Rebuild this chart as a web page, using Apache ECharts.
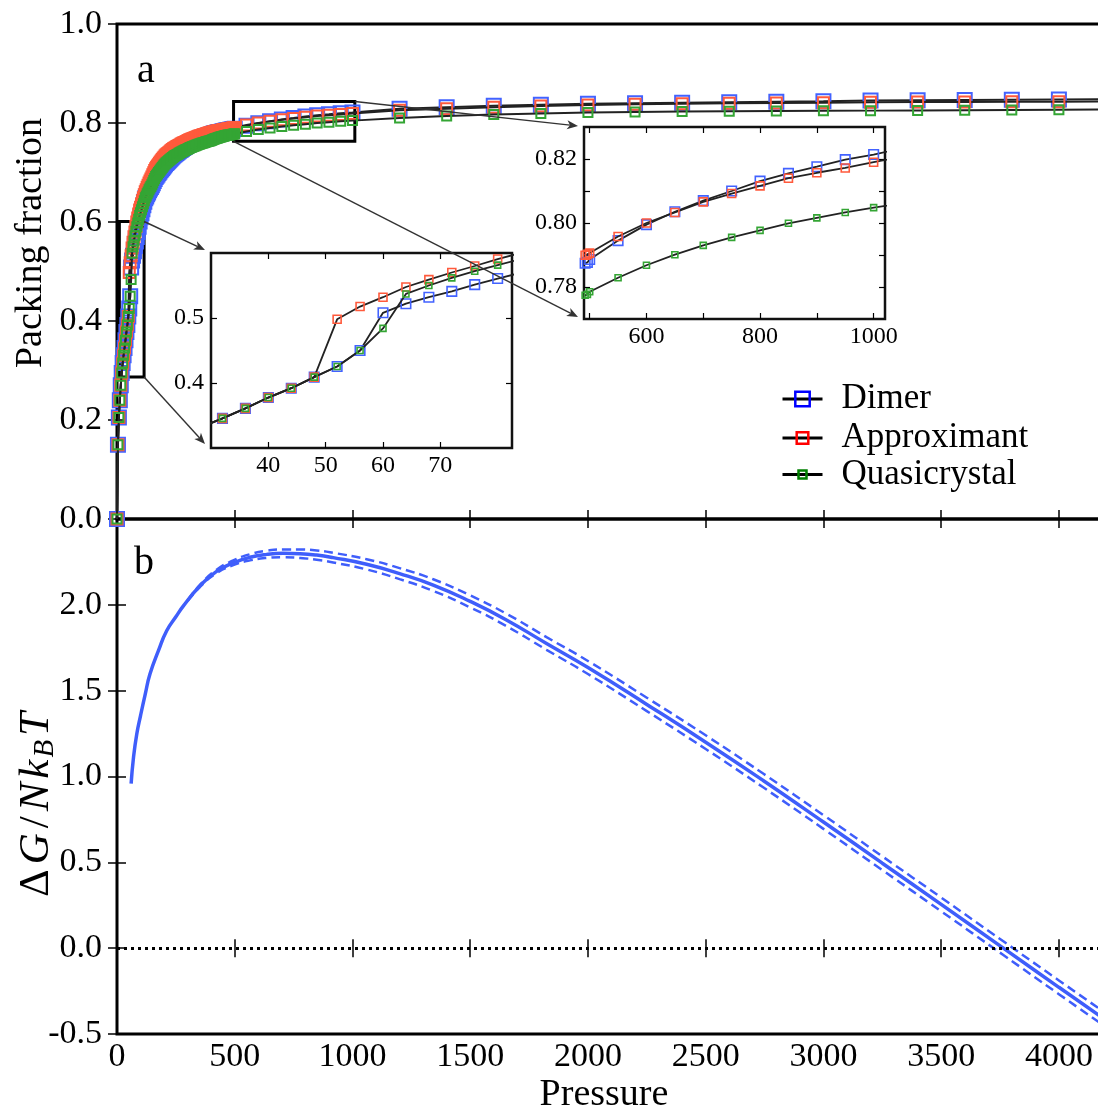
<!DOCTYPE html>
<html><head><meta charset="utf-8">
<script src="https://cdn.jsdelivr.net/npm/echarts@6/dist/echarts.min.js"></script>
<style>html,body{margin:0;padding:0;background:#fff}#c{width:1098px;height:1111px}</style>
</head><body><div id="c"></div>
<script>
// ---------- data ----------
const pressure = [0,4,8,12,16,20,24,28,32,36,40,44,48,52,56,60,64,68,72,76,80,84,88,92,96,100,104,108,112,116,120,124,128,132,136,140,144,148,152,156,160,164,168,172,176,180,184,188,192,196,200,204,208,212,216,220,224,228,232,236,240,244,248,252,256,260,264,268,272,276,280,284,288,292,296,300,304,308,312,316,320,324,328,332,336,340,344,348,352,356,360,364,368,372,376,380,384,388,392,396,400,404,408,412,416,420,424,428,432,436,440,444,448,452,456,460,464,468,472,476,480,484,488,492,496,500,550,600,650,700,750,800,850,900,950,1000,1200,1400,1600,1800,2000,2200,2400,2600,2800,3000,3200,3400,3600,3800,4000,4200];
const dimer = [0,0.150,0.205,0.240,0.270,0.295,0.315,0.331,0.3456,0.361,0.3776,0.392,0.409,
0.4253,0.450,0.508,0.522,0.532,0.541,0.5513,0.5607,
0.5695,0.580,0.5905,0.601,0.6097,0.6175,0.626,0.634,0.641,0.648,
0.6516,0.6559,0.6595,0.6639,0.6675,0.6706,0.6742,0.6785,0.6827,0.6869,0.6907,0.6934,0.6961,0.6989,0.7016,0.7043,0.7068,0.7092,0.7116,0.714,
0.7168,0.719,0.7209,0.7229,0.7249,0.7269,0.7289,0.7308,0.7328,0.7348,0.7363,0.7378,0.7392,0.7407,0.7423,0.7438,0.7453,0.7467,0.7482,0.7495,0.7509,0.7522,0.7535,0.7548,0.7561,
0.7573,0.7583,0.7594,0.7603,0.7612,0.7621,0.763,0.764,0.7649,0.7658,0.7667,0.7675,0.7683,0.769,0.7697,0.7704,0.7711,0.7718,0.7725,0.7732,0.7738,0.7745,0.7751,0.7758,0.7765,
0.7775,0.7782,0.7788,0.7794,0.7799,0.7803,0.7807,0.7812,0.7816,0.782,0.7824,0.7829,0.7832,0.7837,0.7841,0.7846,0.7849,0.7854,0.7857,0.7862,0.7866,0.787,0.7874,0.7877,0.7886,
0.7945,0.7995,0.8035,0.807,0.810,0.8131,0.8155,0.8176,0.8198,0.8214,
0.829,0.832,0.835,0.837,0.839,0.840,0.841,0.842,0.843,0.844,0.8455,0.846,0.8465,0.847,0.8475,0.848];
const approximant = [0,0.150,0.205,0.240,0.270,0.295,0.315,0.331,0.3456,0.361,0.3776,0.392,0.409,
0.498,0.5176,0.532,0.5477,0.559,0.570,0.580,0.5907,
0.600,0.608,0.616,0.624,0.630,0.6365,0.643,0.649,0.655,0.661,
0.665,0.670,0.674,0.679,0.683,0.687,0.691,0.6955,0.6997,0.7039,0.7077,0.7104,0.7131,0.7159,0.7186,0.7213,0.7238,0.7262,0.7286,0.731,
0.7334,0.7352,0.7368,0.7384,0.74,0.7416,0.7432,0.7448,0.7464,0.748,0.7491,0.7502,0.7513,0.7524,0.7536,0.7547,0.7558,0.7569,0.758,0.7589,0.7599,0.7608,0.7618,0.7627,0.7636,
0.7646,0.7655,0.7664,0.7671,0.7679,0.7686,0.7694,0.7702,0.7709,0.7717,0.7724,0.7731,0.7738,0.7744,0.775,0.7756,0.7762,0.7768,0.7774,0.778,0.7785,0.7791,0.7796,0.7801,0.7807,
0.7812,0.7818,0.7823,0.7829,0.7833,0.7837,0.784,0.7844,0.7848,0.7851,0.7855,0.7859,0.7862,0.7866,0.787,0.7874,0.7877,0.7881,0.7884,0.7888,0.7892,0.7895,0.7899,0.7902,0.7906,
0.7958,0.800,0.8033,0.8066,0.8092,0.8116,0.814,0.8157,0.8172,0.819,
0.826,0.829,0.832,0.8345,0.8365,0.838,0.839,0.840,0.8405,0.841,0.842,0.8423,0.8426,0.8428,0.843,0.8433];
const quasicrystal = [0,0.150,0.205,0.240,0.270,0.295,0.315,0.331,0.3456,0.361,0.3776,0.392,0.409,
0.4253,0.450,0.484,0.537,0.550,0.5617,0.572,0.5813,
0.5905,0.598,0.6055,0.613,0.6187,0.6245,0.631,0.637,0.643,0.649,
0.6526,0.6569,0.6605,0.6649,0.6685,0.6716,0.6752,0.6795,0.6837,0.6879,0.6917,0.6944,0.6971,0.6999,0.7026,0.7053,0.7078,0.7102,0.7126,0.715,
0.7174,0.7192,0.7208,0.7224,0.724,0.7256,0.7272,0.7288,0.7304,0.732,0.7331,0.7342,0.7353,0.7364,0.7376,0.7387,0.7398,0.7409,0.742,0.7429,0.7439,0.7448,0.7458,0.7467,0.7476,
0.7486,0.7495,0.7504,0.7511,0.7519,0.7526,0.7534,0.7542,0.7549,0.7557,0.7564,0.7571,0.7578,0.7584,0.759,0.7596,0.7602,0.7608,0.7614,0.762,0.7625,0.7631,0.7636,0.7641,0.7647,
0.7659,0.7667,0.7674,0.7682,0.7688,0.7694,0.7699,0.7705,0.7711,0.7716,0.7722,0.7728,0.7733,0.7739,0.7745,0.7749,0.7752,0.7756,0.7759,0.7763,0.7767,0.777,0.7774,0.7777,0.7785,
0.7829,0.7868,0.7901,0.793,0.7955,0.7977,0.7999,0.8016,0.8033,0.8048,
0.810,0.814,0.817,0.819,0.821,0.822,0.823,0.8235,0.824,0.8245,0.825,0.8255,0.826,0.8265,0.827,0.8275];

const pressureG = [60,70,84,100,120,140,176,211,250,282,352,423,494,565,636,706,777,848,918,1060,1200,1343,1500,1650,1824,2000,2250,2500,2744,3000,3250,3500,3764,4000,4200];
const deltaG = [0.958,1.11,1.248,1.355,1.48,1.597,1.733,1.849,1.93,1.994,2.11,2.195,2.245,2.277,2.294,2.300,2.298,2.29,2.275,2.236,2.182,2.115,2.02,1.915,1.775,1.635,1.42,1.2,0.977,0.735,0.495,0.255,0.0,-0.228,-0.42];
const pressureErr = [300,352,423,494,565,636,706,777,848,918,1060,1200,1343,1500,1650,1824,2000,2250,2500,2744,3000,3250,3500,3764,4000,4200];
const deltaGUpper = [2.026,2.116,2.205,2.259,2.295,2.315,2.323,2.323,2.317,2.303,2.266,2.214,2.149,2.055,1.951,1.812,1.673,1.459,1.24,1.017,0.775,0.535,0.295,0.04,-0.188,-0.38];
const deltaGLower = [2.022,2.104,2.185,2.231,2.259,2.273,2.277,2.273,2.263,2.247,2.206,2.150,2.081,1.985,1.879,1.738,1.597,1.381,1.16,0.937,0.695,0.455,0.215,-0.04,-0.268,-0.46];

const seriesNames = ['Dimer','Approximant','Quasicrystal'];
const inset1XTicks = [40,50,60,70];
const inset1YTicks = [0.4,0.5];
const inset2XTicks = [500,600,700,800,900,1000];
const inset2XLabels = [600,800,1000];
const inset2YTicks = [0.78,0.79,0.80,0.81,0.82];
const inset2YLabels = [0.78,0.80,0.82];

// ---------- chart ----------
const FONT = "'Liberation Serif','DejaVu Serif',serif";
const chart = echarts.init(document.getElementById('c'), null, {renderer:'canvas'});
const pairs = (xs, ys) => xs.map((x, i) => [x, ys[i]]);
const mColors = ['#4262ff', '#ff5a3c', '#34a534'];
const legColors = ['#0000ff', '#ff0000', '#008000'];
const mainSizes = [14, 11, 9];
const insetSizes = [9.5, 8, 6];
const valsList = [dimer, approximant, quasicrystal];

function ax(o) {
  return Object.assign({
    type: 'value', axisLine: {show: false}, splitLine: {show: false},
    axisTick: {inside: true, length: 9, lineStyle: {color: '#000', width: 1.5}},
    axisLabel: {show: false}
  }, o);
}
const mainLabel = (o) => Object.assign({show: true, color: '#000', fontFamily: FONT, fontSize: 34}, o);
const insetTick = {inside: true, length: 6, lineStyle: {color: '#000', width: 1.2}};
const inList = (arr, v) => arr.some(a => Math.abs(a - v) < 1e-6);

const xAxis = [
  ax({gridIndex: 0, position: 'bottom', min: 0, max: 4200, interval: 500}),
  ax({gridIndex: 0, position: 'top', min: 0, max: 4200, interval: 500}),
  ax({gridIndex: 1, position: 'bottom', min: 0, max: 4200, interval: 500,
      axisLabel: mainLabel({margin: 6, formatter: v => (v % 500 === 0 && v <= 4000) ? String(v) : ''})}),
  ax({gridIndex: 1, position: 'top', min: 0, max: 4200, interval: 500}),
  ax({gridIndex: 2, position: 'bottom', min: 30, max: 82.5, interval: 10,
      axisTick: Object.assign({customValues: inset1XTicks}, insetTick),
      axisLabel: {show: true, customValues: inset1XTicks, color: '#000', fontFamily: FONT, fontSize: 24, margin: 6,
                  formatter: v => inList(inset1XTicks, v) ? String(v) : ''}}),
  ax({gridIndex: 2, position: 'top', min: 30, max: 82.5, interval: 10,
      axisTick: Object.assign({customValues: inset1XTicks}, insetTick)}),
  ax({gridIndex: 3, position: 'bottom', min: 490, max: 1020, interval: 100,
      axisTick: Object.assign({customValues: inset2XTicks}, insetTick),
      axisLabel: {show: true, customValues: inset2XLabels, color: '#000', fontFamily: FONT, fontSize: 24, margin: 6,
                  formatter: v => inList(inset2XLabels, v) ? String(v) : ''}}),
  ax({gridIndex: 3, position: 'top', min: 490, max: 1020, interval: 100,
      axisTick: Object.assign({customValues: inset2XTicks}, insetTick)})
];
const yAxis = [
  ax({gridIndex: 0, position: 'left', min: 0, max: 1, interval: 0.2,
      axisLabel: mainLabel({margin: 15, formatter: v => v.toFixed(1)})}),
  ax({gridIndex: 0, position: 'right', min: 0, max: 1, interval: 0.2}),
  ax({gridIndex: 1, position: 'left', min: -0.5, max: 2.5, interval: 0.5,
      axisLabel: mainLabel({margin: 15, formatter: v => Math.abs(v - 2.5) < 1e-6 ? '' : v.toFixed(1)})}),
  ax({gridIndex: 1, position: 'right', min: -0.5, max: 2.5, interval: 0.5}),
  ax({gridIndex: 2, position: 'left', min: 0.3, max: 0.6, interval: 0.1,
      axisTick: Object.assign({customValues: inset1YTicks}, insetTick),
      axisLabel: {show: true, customValues: inset1YTicks, color: '#000', fontFamily: FONT, fontSize: 24, margin: 7,
                  formatter: v => inList(inset1YTicks, v) ? v.toFixed(1) : ''}}),
  ax({gridIndex: 2, position: 'right', min: 0.3, max: 0.6, interval: 0.1,
      axisTick: Object.assign({customValues: inset1YTicks}, insetTick)}),
  ax({gridIndex: 3, position: 'left', min: 0.77, max: 0.83, interval: 0.01,
      axisTick: Object.assign({customValues: inset2YTicks}, insetTick),
      axisLabel: {show: true, customValues: inset2YLabels, color: '#000', fontFamily: FONT, fontSize: 24, margin: 7,
                  formatter: v => inList(inset2YLabels, v) ? v.toFixed(2) : ''}}),
  ax({gridIndex: 3, position: 'right', min: 0.77, max: 0.83, interval: 0.01,
      axisTick: Object.assign({customValues: inset2YTicks}, insetTick)})
];

const grid = [
  {left: 117, top: 24, width: 989, height: 495, outerBoundsMode: 'none', containLabel: false, show: true, borderColor: '#000', borderWidth: 3, backgroundColor: 'transparent'},
  {left: 117, top: 519, width: 989, height: 515, outerBoundsMode: 'none', containLabel: false, show: true, borderColor: '#000', borderWidth: 3, backgroundColor: 'transparent'},
  {left: 211, top: 253, width: 301, height: 195, outerBoundsMode: 'none', containLabel: false, show: true, borderColor: '#111', borderWidth: 2.5, backgroundColor: '#fff'},
  {left: 584, top: 127, width: 301, height: 192, outerBoundsMode: 'none', containLabel: false, show: true, borderColor: '#111', borderWidth: 2.5, backgroundColor: '#fff'}
];

const series = [];
seriesNames.forEach((name, k) => {
  const s = {
    type: 'line', name: name, xAxisIndex: 0, yAxisIndex: 0,
    data: pairs(pressure, valsList[k]),
    symbol: 'rect', symbolSize: mainSizes[k], showSymbol: true,
    itemStyle: {color: 'rgba(0,0,0,0)', borderColor: mColors[k], borderWidth: 2},
    lineStyle: {color: '#222', width: 2},
    silent: true, emphasis: {disabled: true}, z: 2 + k
  };
  if (k === 2) {
    s.markArea = {
      silent: true,
      itemStyle: {color: 'rgba(0,0,0,0)', borderColor: '#000', borderWidth: 3},
      data: [
        [{xAxis: 10, yAxis: 0.287}, {xAxis: 115, yAxis: 0.601}],
        [{xAxis: 495, yAxis: 0.763}, {xAxis: 1010, yAxis: 0.8435}]
      ]
    };
  }
  series.push(s);
});
[[4, 4], [6, 6]].forEach(([xi, yi]) => {
  seriesNames.forEach((name, k) => {
    series.push({
      type: 'line', name: name + ' inset', xAxisIndex: xi, yAxisIndex: yi,
      data: pairs(pressure, valsList[k]), clip: true,
      symbol: 'rect', symbolSize: insetSizes[k], showSymbol: true,
      itemStyle: {color: 'rgba(0,0,0,0)', borderColor: mColors[k], borderWidth: 1.6},
      lineStyle: {color: '#222', width: 1.8},
      silent: true, emphasis: {disabled: true}, z: 5 + k
    });
  });
});
const gBlue = '#3f5efb';
series.push({
  type: 'line', name: 'dG', xAxisIndex: 2, yAxisIndex: 2,
  data: pairs(pressureG, deltaG), symbol: 'none', smooth: 0.5,
  lineStyle: {color: gBlue, width: 3.5}, silent: true, emphasis: {disabled: true},
  markLine: {silent: true, symbol: ['none', 'none'], label: {show: false},
             lineStyle: {color: '#000', type: [3, 4], width: 3}, data: [{yAxis: 0}]}
});
series.push({
  type: 'line', name: 'dG upper', xAxisIndex: 2, yAxisIndex: 2,
  data: pairs(pressureErr, deltaGUpper), symbol: 'none', smooth: 0.5,
  lineStyle: {color: gBlue, width: 2.5, type: [9, 5]}, silent: true, emphasis: {disabled: true}
});
series.push({
  type: 'line', name: 'dG lower', xAxisIndex: 2, yAxisIndex: 2,
  data: pairs(pressureErr, deltaGLower), symbol: 'none', smooth: 0.5,
  lineStyle: {color: gBlue, width: 2.5, type: [9, 5]}, silent: true, emphasis: {disabled: true}
});

const legendCenters = [399, 438, 474.5];
const legendHeights = [18, 14.5, 10];
const legend = seriesNames.map((name, k) => ({
  data: [{name: name,
          itemStyle: {color: 'rgba(0,0,0,0)', borderColor: legColors[k], borderWidth: 2.5},
          lineStyle: {color: '#000', width: 3}}],
  left: 781, top: legendCenters[k] - 17.5, padding: 0,
  itemWidth: 40, itemHeight: legendHeights[k], selectedMode: false,
  textStyle: {fontFamily: FONT, fontSize: 35, color: '#000', lineHeight: 35, padding: [0, 0, 0, 14]}
}));

chart.setOption({
  animation: false, backgroundColor: '#fff',
  grid, xAxis, yAxis, series, legend
});

// ---------- annotations (texts + zoom arrows) ----------
function arrow(p0, p1) {
  const dx = p1[0] - p0[0], dy = p1[1] - p0[1], L = Math.hypot(dx, dy), ux = dx / L, uy = dy / L;
  const hl = 11, hw = 4.5;
  const b = [p1[0] - ux * hl, p1[1] - uy * hl];
  return [
    {type: 'line', z: 100, shape: {x1: p0[0], y1: p0[1], x2: b[0] + ux * 3, y2: b[1] + uy * 3}, style: {stroke: '#333', lineWidth: 1.4}},
    {type: 'polygon', z: 100, shape: {points: [p1, [b[0] - uy * hw, b[1] + ux * hw], [b[0] + ux * 3, b[1] + uy * 3], [b[0] + uy * hw, b[1] - ux * hw]]}, style: {fill: '#333'}}
  ];
}
const P = (g, pt) => chart.convertToPixel({gridIndex: g}, pt);
const b1tr = P(0, [115, 0.601]), b1br = P(0, [115, 0.287]);
const b2tr = P(0, [1010, 0.8435]), b2bl = P(0, [495, 0.763]);
const i1tl = P(2, [30, 0.6]), i1bl = P(2, [30, 0.3]);
const i2tl = P(3, [490, 0.83]), i2bl = P(3, [490, 0.77]);
const graphic = [].concat(
  arrow(b1tr, [i1tl[0] - 6, i1tl[1] - 3]),
  arrow(b1br, [i1bl[0] - 6, i1bl[1] - 4]),
  arrow(b2tr, [i2tl[0] - 6, i2tl[1] - 1]),
  arrow(b2bl, [i2bl[0] - 6, i2bl[1] - 2]),
  [
    {type: 'text', z: 100, x: 137, y: 71, style: {text: 'a', fontFamily: FONT, fontSize: 40, fill: '#000', align: 'left', verticalAlign: 'middle'}},
    {type: 'text', z: 100, x: 134, y: 563, style: {text: 'b', fontFamily: FONT, fontSize: 40, fill: '#000', align: 'left', verticalAlign: 'middle'}},
    {type: 'text', z: 100, x: 31, y: 243, rotation: Math.PI / 2,
     style: {text: 'Packing fraction', fontFamily: FONT, fontSize: 38, fill: '#000', align: 'center', verticalAlign: 'middle'}},
    {type: 'text', z: 100, x: 604, y: 1095,
     style: {text: 'Pressure', fontFamily: FONT, fontSize: 38, fill: '#000', align: 'center', verticalAlign: 'middle'}},
    {type: 'text', z: 100, x: 37, y: 805, rotation: Math.PI / 2,
     style: {text: '{u|Δ}{i|G}{u|/}{i|N}{i|k}{s|B}{i|T}', align: 'center', verticalAlign: 'middle', fill: '#000',
             rich: {
               u: {fontFamily: FONT, fontSize: 43, lineHeight: 46, fill: '#000', padding: [0, 3]},
               i: {fontFamily: FONT, fontSize: 43, fontStyle: 'italic', lineHeight: 46, fill: '#000', padding: [0, 2]},
               s: {fontFamily: FONT, fontSize: 29, fontStyle: 'italic', lineHeight: 28, verticalAlign: 'bottom', fill: '#000', padding: [0, 2, 0, 0]}
             }}}
  ]
);
chart.setOption({graphic: graphic});
</script>
</body></html>
